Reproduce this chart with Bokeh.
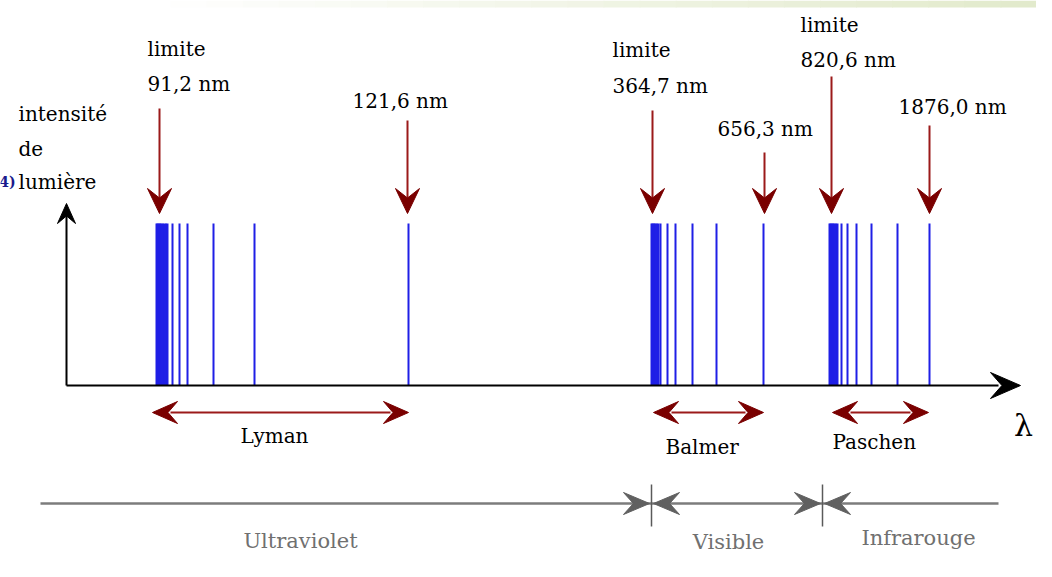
from bokeh.plotting import figure
from bokeh.models import Range1d
from bokeh.embed import file_html
from bokeh.resources import INLINE
from bokeh.core.properties import value

# ---------------- data (schematic positions) ----------------
lyman_lines = [156, 157, 158, 159, 160, 161, 162.5, 164, 165.5, 167, 172, 179, 187, 213, 254, 408]
balmer_lines = [651, 652, 653, 654, 655, 656.5, 658, 660, 667, 675, 692, 716, 763]
paschen_lines = [829, 830, 831, 832, 833, 834, 835.5, 837, 841, 847, 856, 871, 897, 929]

marker_x = [159, 407, 652, 764, 831, 929]
marker_top = [108, 120, 110, 152, 76, 125]
marker_text = [["limite", "91,2 nm"], ["121,6 nm"], ["limite", "364,7 nm"],
               ["656,3 nm"], ["limite", "820,6 nm"], ["1876,0 nm"]]
marker_text_x = [147, 352, 612, 717, 800, 898]
marker_text_base = [[48, 83], [100], [49, 85], [128], [24, 59], [106]]

series_names = ["Lyman", "Balmer", "Paschen"]
series_start = [152, 653, 832]
series_end = [408, 763, 928]
series_label_x = [240, 665, 832]
series_label_base = [435, 446, 441]

region_names = ["Ultraviolet", "Visible", "Infrarouge"]
region_center = [300, 728, 918]
region_base = [540, 541, 537]
region_bounds = [651, 822]
region_extent = [40, 998]

y_label_lines = ["intensité", "de", "lumière"]
y_label_base = [113, 148, 181]

BASE_Y = 385
LINE_TOP = 223
TIP_Y = 213

FONT = value("DejaVu Serif")

W, H = 1036, 561
p = figure(width=W, height=H, x_range=Range1d(0, W), y_range=Range1d(H, 0),
           output_backend="svg", toolbar_location=None, min_border=0,
           x_axis_location=None, y_axis_location=None)
p.grid.visible = False
p.outline_line_color = None
p.background_fill_color = "white"
p.border_fill_color = "white"

# faint page-header strip (white -> pale green)
n_steps = 24
x_edges = [170 + i * (W - 170) / n_steps for i in range(n_steps + 1)]
strip_colors = []
for i in range(n_steps):
    t = (i + 0.5) / n_steps
    r = int(255 - t * (255 - 0xe2))
    g = int(255 - t * (255 - 0xea))
    b = int(255 - t * (255 - 0xcb))
    strip_colors.append("#%02x%02x%02x" % (r, g, b))
p.quad(left=x_edges[:-1], right=[x + 1 for x in x_edges[1:]], top=[0] * n_steps, bottom=[7] * n_steps,
       fill_color=strip_colors, line_color=None)


def head(tx, ty, dx, dy, L, Wd):
    nx, ny = -dy, dx
    bx, by = tx - L * dx, ty - L * dy
    mx, my = tx - 0.62 * L * dx, ty - 0.62 * L * dy
    xs = [tx, bx + Wd / 2 * nx, mx, bx - Wd / 2 * nx]
    ys = [ty, by + Wd / 2 * ny, my, by - Wd / 2 * ny]
    return xs, ys


# ---------------- spectral lines ----------------
all_lines = lyman_lines + balmer_lines + paschen_lines
p.segment(x0=all_lines, y0=[BASE_Y] * len(all_lines), x1=all_lines, y1=[LINE_TOP] * len(all_lines),
          line_color="#1f1fe6", line_width=2)

# ---------------- axes ----------------
p.segment(x0=[66], y0=[BASE_Y], x1=[998], y1=[BASE_Y], line_color="black", line_width=2)
p.segment(x0=[66], y0=[BASE_Y], x1=[66], y1=[214], line_color="black", line_width=2)
hx, hy = head(1020, BASE_Y, 1, 0, 30, 26)
vx, vy = head(66, 203, 0, -1, 20, 18)
p.patches(xs=[hx, vx], ys=[hy, vy], fill_color="black", line_color="black", line_width=1)

p.text(x=[1023], y=[425], text=["λ"], text_font=FONT, text_font_size="30px",
       text_align="center", text_baseline="alphabetic", text_color="black")

# ---------------- y label ----------------
p.text(x=[18] * 3, y=y_label_base, text=y_label_lines, text_font=FONT, text_font_size="20px",
       text_align="left", text_baseline="alphabetic", text_color="black")
p.text(x=[15], y=[181], text=["4)"], text_font=FONT, text_font_size="14px", text_font_style="bold",
       text_align="right", text_baseline="alphabetic", text_color="#1a1a8c")

# ---------------- red markers ----------------
RED_SHAFT = "#9b1a1a"
RED_HEAD = "#7a0000"
p.segment(x0=marker_x, y0=marker_top, x1=marker_x, y1=[TIP_Y - 15] * len(marker_x),
          line_color=RED_SHAFT, line_width=2)
mhx, mhy = [], []
for mx in marker_x:
    a, b = head(mx, TIP_Y, 0, 1, 25, 24)
    mhx.append(a)
    mhy.append(b)
p.patches(xs=mhx, ys=mhy, fill_color=RED_HEAD, line_color=RED_HEAD, line_width=1)

tx, ty, tt = [], [], []
for x0, lines, bases in zip(marker_text_x, marker_text, marker_text_base):
    for s, b in zip(lines, bases):
        tx.append(x0)
        ty.append(b)
        tt.append(s)
p.text(x=tx, y=ty, text=tt, text_font=FONT, text_font_size="20px",
       text_align="left", text_baseline="alphabetic", text_color="black")

# ---------------- series double arrows ----------------
SERIES_Y = 412
p.segment(x0=[s + 18 for s in series_start], y0=[SERIES_Y] * 3,
          x1=[e - 18 for e in series_end], y1=[SERIES_Y] * 3, line_color=RED_SHAFT, line_width=2)
shx, shy = [], []
for s, e in zip(series_start, series_end):
    a, b = head(s, SERIES_Y, -1, 0, 25, 22)
    shx.append(a); shy.append(b)
    a, b = head(e, SERIES_Y, 1, 0, 25, 22)
    shx.append(a); shy.append(b)
p.patches(xs=shx, ys=shy, fill_color=RED_HEAD, line_color=RED_HEAD, line_width=1)
p.text(x=series_label_x, y=series_label_base, text=series_names, text_font=FONT,
       text_font_size="20px", text_align="left", text_baseline="alphabetic", text_color="black")

# ---------------- spectral regions ----------------
REG_Y = 503
GRAY = "#7c7c7c"
p.segment(x0=[region_extent[0]], y0=[REG_Y], x1=[region_extent[1]], y1=[REG_Y],
          line_color=GRAY, line_width=2.5)
p.segment(x0=region_bounds, y0=[484] * 2, x1=region_bounds, y1=[526] * 2,
          line_color="#5a5a5a", line_width=1.5)
ghx, ghy = [], []
for bnd in region_bounds:
    a, b = head(bnd - 2, REG_Y, 1, 0, 26, 22)
    ghx.append(a); ghy.append(b)
    a, b = head(bnd + 2, REG_Y, -1, 0, 26, 22)
    ghx.append(a); ghy.append(b)
p.patches(xs=ghx, ys=ghy, fill_color="#606060", line_color="#606060", line_width=1)
p.text(x=region_center, y=region_base, text=region_names, text_font=FONT, text_font_size="21px",
       text_align="center", text_baseline="alphabetic", text_color="#707070")

open("out.html", "w").write(file_html(p, INLINE))
